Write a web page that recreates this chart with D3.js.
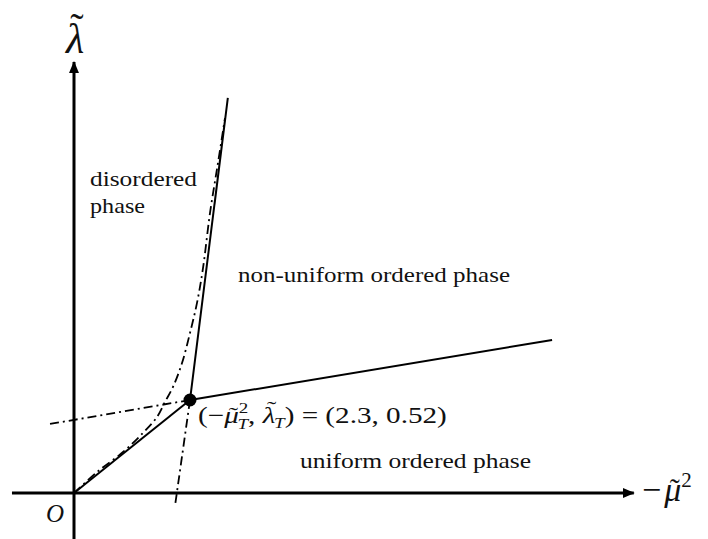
<!DOCTYPE html>
<html>
<head>
<meta charset="utf-8">
<script src="https://cdn.jsdelivr.net/npm/d3@7"></script>
<style>
  html, body { margin: 0; padding: 0; background: #fff; }
  svg { display: block; }
  text { font-family: "Liberation Serif", "DejaVu Serif", serif; fill: #111; }
</style>
</head>
<body>
<svg id="chart" width="708" height="539"></svg>
<script>
// Phase diagram in the (-mu^2, lambda) plane
const triplePoint = [2.3, 0.52];
const lowerBoundary = [[0, 0], [2.3, 0.52]];            // disordered / uniform
const upperBoundary = [[2.3, 0.52], [3.05, 2.21]];      // disordered / non-uniform
const rightBoundary = [[2.3, 0.52], [9.48, 0.856]];     // uniform / non-uniform
const leftExtension = [[2.3, 0.52], [-0.476, 0.386]];   // continuation of right boundary
const downExtension = [[2.3, 0.52], [2.0, -0.078]];     // continuation of upper boundary
const instabilityCurve = [
  [0, 0], [0.456, 0.117], [0.972, 0.229], [1.368, 0.336], [1.646, 0.425],
  [1.804, 0.509], [1.963, 0.593], [2.142, 0.727], [2.30, 0.895], [2.439, 1.063],
  [2.558, 1.258], [2.697, 1.566], [2.855, 1.846], [2.994, 2.097]
];
const xAxisExtent = [-1.23, 11.1];
const yAxisExtent = [-0.26, 2.41];
const regionLabels = ["disordered", "phase", "non-uniform ordered phase", "uniform ordered phase"];

const svg = d3.select("#chart");
const x = d3.scaleLinear().domain([0, 10]).range([74, 578.3]);
const y = d3.scaleLinear().domain([0, 2]).range([493, 135.4]);

const line = d3.line().x(d => x(d[0])).y(d => y(d[1]));
const dashDot = "9,4,2,4";

// arrow marker for the axes
svg.append("defs").append("marker")
  .attr("id", "arrow")
  .attr("viewBox", "0 0 12 10")
  .attr("refX", 11).attr("refY", 5)
  .attr("markerWidth", 12).attr("markerHeight", 10)
  .attr("markerUnits", "userSpaceOnUse")
  .attr("orient", "auto")
  .append("path").attr("d", "M0,0 L12,5 L0,10 Z").attr("fill", "#000");

// axes
svg.append("line")
  .attr("x1", x(xAxisExtent[0])).attr("y1", y(0))
  .attr("x2", x(xAxisExtent[1])).attr("y2", y(0))
  .attr("stroke", "#000").attr("stroke-width", 3)
  .attr("marker-end", "url(#arrow)");
svg.append("line")
  .attr("x1", x(0)).attr("y1", y(yAxisExtent[0]))
  .attr("x2", x(0)).attr("y2", y(yAxisExtent[1]))
  .attr("stroke", "#000").attr("stroke-width", 3)
  .attr("marker-end", "url(#arrow)");

// dash-dot lines: metastability extensions and instability curve
[leftExtension, downExtension].forEach(seg => {
  svg.append("path").attr("d", line(seg))
    .attr("fill", "none").attr("stroke", "#000")
    .attr("stroke-width", 1.8).attr("stroke-dasharray", dashDot);
});
svg.append("path")
  .attr("d", d3.line().x(d => x(d[0])).y(d => y(d[1])).curve(d3.curveCatmullRom)(instabilityCurve))
  .attr("fill", "none").attr("stroke", "#000")
  .attr("stroke-width", 1.8).attr("stroke-dasharray", dashDot);

// phase boundaries
[lowerBoundary, upperBoundary, rightBoundary].forEach(seg => {
  svg.append("path").attr("d", line(seg))
    .attr("fill", "none").attr("stroke", "#000").attr("stroke-width", 2);
});

// triple point
svg.append("circle")
  .attr("cx", x(triplePoint[0])).attr("cy", y(triplePoint[1]))
  .attr("r", 6.5).attr("fill", "#000");

// widen a label group horizontally so it spans the given width
function fitWidth(g, x0, width) {
  const w = g.node().getBBox().width;
  const k = width / w;
  g.attr("transform", `translate(${x0},0) scale(${k},1) translate(${-x0},0)`);
}
// collect tilde accent positions over characters of a text element,
// then append them as absolutely positioned tspans of that same element
function addTildes(textSel, specs) {
  const node = textSel.node();
  const pos = specs.map(([idx, size, lift, shift]) => {
    const r = node.getExtentOfChar(idx);
    const base = node.getStartPositionOfChar(idx).y;
    return [r.x + r.width / 2 + shift, base - lift, size];
  });
  pos.forEach(([px, py, size]) => {
    textSel.append("tspan")
      .attr("x", px).attr("y", py)
      .attr("text-anchor", "middle")
      .attr("font-size", size)
      .attr("font-style", "normal")
      .text("\u02DC");
  });
}

// vertical axis label
{
  const t = svg.append("text")
    .attr("x", x(0) + 1).attr("y", 53)
    .attr("font-size", 42);
  t.append("tspan").attr("text-anchor", "middle").attr("font-style", "italic").text("\u03BB");
  addTildes(t, [[0, 40, 12, 2]]);
}

// horizontal axis label
{
  const t = svg.append("text").attr("x", 642).attr("y", 501).attr("font-size", 34);
  t.append("tspan").text("\u2212");
  t.append("tspan").attr("font-style", "italic").attr("dx", 3).text("\u03BC");
  t.append("tspan").attr("font-size", 21).attr("dy", -14).text("2");
  addTildes(t, [[1, 30, 2, 2]]);
}

// origin
svg.append("text")
  .attr("x", 46).attr("y", 522)
  .attr("font-size", 25).attr("font-style", "italic")
  .text("O");

// region labels
const regionPos = [[90, 186, 107], [90, 213, 55], [238, 282, 272], [300, 468, 231]];
regionLabels.forEach((s, i) => {
  const [px, py, w] = regionPos[i];
  svg.append("text").attr("x", px).attr("y", py).attr("font-size", 22)
    .attr("textLength", w).attr("lengthAdjust", "spacingAndGlyphs").text(s);
});

// triple point annotation
{
  const g = svg.append("g");
  const t = g.append("text").attr("x", 198).attr("y", 423).attr("font-size", 23);
  t.append("tspan").text("(\u2212");
  t.append("tspan").attr("font-style", "italic").text("\u03BC");
  t.append("tspan").attr("font-size", 15).attr("dy", -10).text("2");
  const sub = t.append("tspan").attr("font-size", 15).attr("font-style", "italic")
    .attr("dy", 16).text("T");
  t.append("tspan").attr("dy", -6).text(", ");
  t.append("tspan").attr("font-style", "italic").text("\u03BB");
  t.append("tspan").attr("font-size", 15).attr("font-style", "italic")
    .attr("dy", 5).attr("dx", -1).text("T");
  t.append("tspan").attr("dy", -5).text(") = (2.3, 0.52)");
  // stack the subscript under the superscript
  const supX = t.node().getStartPositionOfChar(3).x;
  const subStart = t.node().getStartPositionOfChar(4).x;
  sub.attr("dx", supX - subStart - 1);
  addTildes(t, [[2, 22, 1, 1.5], [7, 22, 7, 2]]);
  fitWidth(g, 198, 249);
}
</script>
</body>
</html>
